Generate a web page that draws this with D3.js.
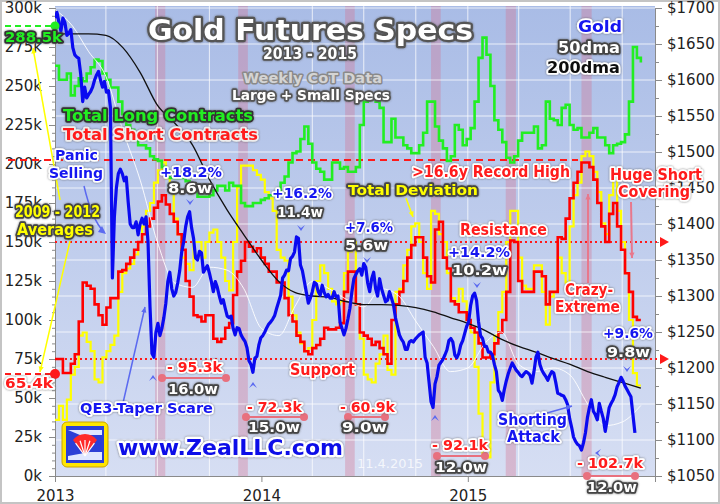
<!DOCTYPE html>
<html>
<head>
<meta charset="utf-8">
<script src="https://cdn.jsdelivr.net/npm/d3@7"></script>
<style>
  body { margin: 0; background: #fff; }
  svg text { font-family: "DejaVu Sans", Verdana, sans-serif; }
</style>
</head>
<body>
<div id="chart"></div>
<script>
// weekly CoT values (thousands of contracts), one per Tuesday from 2013-01-01
const longs = [263,254,254,258,244,250,255,253,258,262,
  267,266,258,254,249,249,240,232,225,222,
  218,212,212,210,205,203,202,198,193,191,
  191,191,191,189,187,183,179,179,179,180,
  183,186,186,183,188,186,186,175,173,173,
  175,175,177,178,180,180,183,188,192,201,
  207,208,216,224,213,201,197,195,190,190,
  201,201,197,198,195,195,198,225,240,241,
  242,240,236,214,214,229,217,217,212,210,
  207,207,212,220,240,240,224,215,210,202,
  205,225,222,212,216,223,240,268,281,270,
  250,228,222,214,204,201,205,215,220,220,
  220,224,210,212,240,229,228,225,236,238,
  225,222,223,217,217,220,223,217,217,212,
  207,212,213,214,219,240,275,268,265];

const shorts = [75,75,66,66,72,78,99,124,122,120,
  110,103,97,108,114,114,131,132,136,140,
  145,150,155,160,165,172,176,180,174,168,
  163,155,145,125,115,103,102,99,103,103,
  88,86,88,95,98,116,131,138,150,147,
  144,146,140,136,131,131,124,124,114,103,
  99,90,86,80,78,82,84,88,95,94,
  94,95,98,118,131,131,110,92,90,88,
  84,86,82,78,72,100,110,118,125,140,
  148,153,153,140,128,124,158,163,140,133,
  112,110,105,105,100,95,92,85,76,76,
  78,85,92,100,118,151,150,125,118,118,
  118,131,131,128,110,118,118,153,152,165,
  178,188,195,201,201,198,190,175,160,150,
  168,175,160,145,130,118,102,100,100];

const deviation = [36,45,36,49,65,70,90,92,86,80,
  62,60,76,80,84,90,118,130,133,136,
  142,150,160,170,175,188,196,201,191,185,
  165,155,140,136,132,150,150,140,150,156,
  158,150,140,125,119,150,185,199,199,199,
  196,193,190,182,178,170,145,140,138,115,
  103,92,85,80,82,100,125,135,130,120,
  112,110,112,130,144,150,110,88,65,62,
  60,72,78,90,68,65,118,120,135,145,
  160,162,150,130,120,170,168,155,150,130,
  114,112,120,112,100,92,70,40,13,12,
  60,90,105,118,150,170,170,140,122,120,
  120,135,135,118,97,115,118,140,130,124,
  160,180,188,205,208,205,195,182,162,155,
  180,195,170,150,130,100,66,58,58];

// gold price ($/oz), read every half week (3.5 days) from 2013-01-01
const gold = [1686,1694,1680,1668,1686,1680,1662,1665,1670,1645,
  1635,1632,1630,1608,1570,1590,1575,1580,1584,1590,
  1600,1607,1612,1600,1590,1598,1583,1585,1562,1325,
  1410,1450,1470,1476,1470,1460,1465,1430,1400,1395,
  1395,1403,1385,1400,1408,1400,1410,1375,1285,1220,
  1215,1250,1262,1245,1255,1270,1290,1320,1333,1310,
  1300,1305,1318,1335,1361,1375,1396,1410,1417,1395,
  1380,1353,1350,1362,1360,1333,1338,1342,1332,1320,
  1306,1320,1312,1300,1290,1295,1283,1272,1270,1272,
  1255,1246,1256,1255,1246,1241,1237,1228,1210,1205,
  1194,1214,1216,1232,1242,1245,1250,1256,1261,1264,
  1268,1273,1283,1292,1301,1325,1329,1336,1335,1352,
  1355,1361,1382,1380,1343,1335,1320,1305,1290,1297,
  1306,1319,1317,1306,1301,1315,1305,1299,1302,1297,
  1297,1306,1299,1300,1264,1255,1246,1255,1268,1283,
  1306,1324,1330,1335,1338,1329,1345,1340,1318,1306,
  1324,1333,1310,1300,1324,1310,1301,1292,1294,1306,
  1297,1288,1270,1258,1246,1240,1236,1226,1226,1236,
  1238,1236,1240,1243,1246,1248,1250,1215,1207,1180,
  1153,1145,1178,1188,1204,1208,1212,1218,1225,1238,
  1241,1236,1218,1214,1220,1232,1238,1248,1258,1264,
  1287,1300,1304,1294,1264,1245,1241,1230,1230,1222,
  1222,1218,1205,1195,1169,1165,1155,1170,1182,1192,
  1200,1207,1202,1197,1194,1190,1188,1192,1195,1193,
  1190,1179,1195,1215,1222,1205,1197,1192,1188,1183,
  1190,1195,1193,1180,1165,1164,1162,1161,1156,1149,
  1130,1118,1104,1098,1094,1092,1086,1096,1110,1131,
  1145,1156,1140,1135,1128,1151,1140,1130,1112,1128,
  1145,1151,1156,1163,1174,1180,1187,1182,1175,1170,
  1165,1160,1135,1110];

// moving averages, monthly readings
const maDates = ["2013-01-01","2013-02-01","2013-03-01","2013-04-01","2013-05-01","2013-06-01",
  "2013-07-01","2013-08-01","2013-09-01","2013-10-01","2013-11-01","2013-12-01",
  "2014-01-01","2014-02-01","2014-03-01","2014-04-01","2014-05-01","2014-06-01",
  "2014-07-01","2014-08-01","2014-09-01","2014-10-01","2014-11-01","2014-12-01",
  "2015-01-01","2015-02-01","2015-03-01","2015-04-01","2015-05-01","2015-06-01",
  "2015-07-01","2015-08-01","2015-09-01","2015-10-01","2015-11-03"];
const dma50 = [1698,1675,1640,1605,1530,1460,1375,1318,1312,1340,1336,1310,
  1255,1245,1285,1320,1310,1295,1285,1310,1300,1265,1230,1195,
  1200,1235,1250,1205,1195,1200,1190,1150,1120,1125,1148];
const dma200 = [1664,1664,1664,1662,1645,1610,1565,1540,1510,1462,1420,1385,
  1350,1320,1305,1300,1298,1292,1288,1288,1287,1284,1278,1270,
  1262,1252,1240,1230,1222,1213,1205,1195,1187,1180,1172];

// short-peak highlight bands
const bandStarts = ["2013-06-27","2013-11-21","2014-05-29","2014-10-28","2015-03-09","2015-07-21"];
const bandEnds   = ["2013-07-15","2013-12-08","2014-06-15","2014-11-14","2015-03-27","2015-08-08"];

const leftTicks = [0,25,50,75,100,125,150,175,200,225,250,275,300];
const rightTicks = [1050,1100,1150,1200,1250,1300,1350,1400,1450,1500,1550,1600,1650,1700];
const yearTicks = ["2013-01-01","2014-01-01","2015-01-01"];
const yearLabels = ["2013","2014","2015"];
const quarterGrid = ["2013-04-01","2013-07-01","2013-10-01","2014-04-01","2014-07-01","2014-10-01",
  "2015-01-01","2015-04-01","2015-07-01","2015-10-01"];

const recordHigh = 202.5, avgLong = 288.5, avgShort = 65.4;
const resistance = 150, support = 75;

/*
SVG + SCALES
*/
const width = 720, height = 504;
const svg = d3.select("#chart").append("svg")
    .attr("width", width).attr("height", height);

const parse = d3.timeParse("%Y-%m-%d");
const start = new Date(2013, 0, 1);
const weekDate = function(i) { return new Date(2013, 0, 1 + 7 * i); };
const halfWeekDate = function(j) { return new Date(start.getTime() + j * 3.5 * 86400000); };

const xScale = d3.scaleTime()
    .domain([new Date(2013, 0, 1), new Date(2015, 10, 28)])
    .range([55, 655]);
const yLeft = d3.scaleLinear().domain([0, 300]).range([476, 8]);
const yRight = d3.scaleLinear().domain([1050, 1700]).range([476, 8]);

const defs = svg.append("defs");
const grad = defs.append("linearGradient").attr("id", "bg")
    .attr("x1", 0).attr("y1", 0).attr("x2", 0).attr("y2", 1);
grad.append("stop").attr("offset", "0%").attr("stop-color", "#a9bce6");
grad.append("stop").attr("offset", "100%").attr("stop-color", "#d6def3");
defs.append("clipPath").attr("id", "plot")
    .append("rect").attr("x", 55).attr("y", 6).attr("width", 600).attr("height", 470);
const glow = defs.append("filter").attr("id", "glow")
    .attr("x", "-10%").attr("y", "-30%").attr("width", "120%").attr("height", "160%");
glow.append("feDropShadow").attr("dx", 0).attr("dy", 0).attr("stdDeviation", 1.2)
    .attr("flood-color", "#555").attr("flood-opacity", 0.8);

// frame + plot background
svg.append("rect").attr("x", 1).attr("y", 1).attr("width", width - 2).attr("height", height - 2)
    .attr("fill", "#fff").attr("stroke", "#c4c4c4").attr("stroke-width", 2);
svg.append("rect").attr("x", 55).attr("y", 6).attr("width", 600).attr("height", 470)
    .attr("fill", "url(#bg)");

/*
BANDS + GRID
*/
svg.selectAll(".band").data(bandStarts).enter().append("rect")
    .attr("x", function(d) { return xScale(parse(d)); })
    .attr("width", function(d, i) { return xScale(parse(bandEnds[i])) - xScale(parse(d)); })
    .attr("y", 6).attr("height", 470)
    .attr("fill", "rgba(215,110,140,0.34)");

svg.selectAll(".hgrid").data(rightTicks.slice(1)).enter().append("line")
    .attr("x1", 55).attr("x2", 655)
    .attr("y1", function(d) { return yRight(d); }).attr("y2", function(d) { return yRight(d); })
    .attr("stroke", "#fff").attr("stroke-opacity", 0.75);
svg.selectAll(".vgrid").data(quarterGrid).enter().append("line")
    .attr("x1", function(d) { return xScale(parse(d)); }).attr("x2", function(d) { return xScale(parse(d)); })
    .attr("y1", 6).attr("y2", 476)
    .attr("stroke", "#fff").attr("stroke-opacity", 0.75);

/*
AXES
*/
function styleAxis(g) {
    g.selectAll("path,line").attr("stroke", "#8a8a8a");
    g.selectAll("text").attr("fill", "#222").attr("font-size", 15)
        .attr("font-family", "DejaVu Sans, Verdana, sans-serif");
}
svg.append("g").attr("transform", "translate(55,0)")
    .call(d3.axisLeft(yLeft).tickValues(d3.range(0, 301, 5)).tickSize(3).tickFormat(""))
    .call(styleAxis);
svg.append("g").attr("transform", "translate(55,0)")
    .call(d3.axisLeft(yLeft).tickValues(leftTicks).tickSize(6).tickPadding(7)
        .tickFormat(function(d) { return d + "k"; }))
    .call(styleAxis);
svg.append("g").attr("transform", "translate(655,0)")
    .call(d3.axisRight(yRight).tickValues(d3.range(1050, 1701, 25)).tickSize(4).tickFormat(""))
    .call(styleAxis);
svg.append("g").attr("transform", "translate(655,0)")
    .call(d3.axisRight(yRight).tickValues(rightTicks).tickSize(7).tickPadding(5)
        .tickFormat(function(d) { return "$" + d; }))
    .call(styleAxis);
svg.append("g").attr("transform", "translate(0,476)")
    .call(d3.axisBottom(xScale).tickValues(yearTicks.map(parse)).tickSize(6).tickPadding(8)
        .tickFormat(function(d, i) { return yearLabels[i]; }))
    .call(styleAxis);

/*
REFERENCE LINES
*/
svg.append("line").attr("x1", 8).attr("x2", 578)
    .attr("y1", yLeft(recordHigh)).attr("y2", yLeft(recordHigh))
    .attr("stroke", "#ff1a1a").attr("stroke-width", 2).attr("stroke-dasharray", "7,5");
[resistance, support].forEach(function(v) {
    svg.append("line").attr("x1", 55).attr("x2", 660)
        .attr("y1", yLeft(v)).attr("y2", yLeft(v))
        .attr("stroke", "#ff1a1a").attr("stroke-width", 2).attr("stroke-dasharray", "2,3");
    svg.append("path")
        .attr("d", `M660,${yLeft(v) - 5}L669,${yLeft(v)}L660,${yLeft(v) + 5}Z`)
        .attr("fill", "#ff1a1a");
});
svg.append("line").attr("x1", 5).attr("x2", 55)
    .attr("y1", yLeft(avgLong)).attr("y2", yLeft(avgLong))
    .attr("stroke", "#22ee22").attr("stroke-width", 2).attr("stroke-dasharray", "6,4");
svg.append("line").attr("x1", 5).attr("x2", 55)
    .attr("y1", yLeft(avgShort)).attr("y2", yLeft(avgShort))
    .attr("stroke", "#ff1a1a").attr("stroke-width", 2).attr("stroke-dasharray", "6,4");

/*
SERIES
*/
const plot = svg.append("g").attr("clip-path", "url(#plot)");
const stepLine = d3.line()
    .x(function(d, i) { return xScale(weekDate(i)); })
    .y(function(d) { return yLeft(d); })
    .curve(d3.curveStepAfter);
const goldLine = d3.line()
    .x(function(d, i) { return xScale(halfWeekDate(i)); })
    .y(function(d) { return yRight(d); });
const maLine = d3.line()
    .x(function(d, i) { return xScale(parse(maDates[i])); })
    .y(function(d) { return yRight(d); })
    .curve(d3.curveMonotoneX);

plot.append("path").datum(deviation).attr("d", stepLine)
    .attr("fill", "none").attr("stroke", "#ffff00").attr("stroke-width", 2.2);
plot.append("path").datum(longs).attr("d", stepLine)
    .attr("fill", "none").attr("stroke", "#22ee22").attr("stroke-width", 2.6);
plot.append("path").datum(shorts).attr("d", stepLine)
    .attr("fill", "none").attr("stroke", "#ff0000").attr("stroke-width", 2.6);
plot.append("path").datum(dma50).attr("d", maLine)
    .attr("fill", "none").attr("stroke", "#fff").attr("stroke-width", 1).attr("stroke-opacity", 0.9);
plot.append("path").datum(dma200).attr("d", maLine)
    .attr("fill", "none").attr("stroke", "#111").attr("stroke-width", 1.3);
plot.append("path").datum(gold).attr("d", goldLine)
    .attr("fill", "none").attr("stroke", "#0a0af0").attr("stroke-width", 3.2)
    .attr("stroke-linejoin", "round");

// start markers
svg.append("circle").attr("cx", xScale(weekDate(0))).attr("cy", yLeft(avgLong)).attr("r", 4.5)
    .attr("fill", "#22ee22");
svg.append("circle").attr("cx", xScale(weekDate(0))).attr("cy", yLeft(avgShort)).attr("r", 5)
    .attr("fill", "#ff1a1a");

/*
ANNOTATION ARROWS
*/
function arrow(x1, y1, x2, y2, color, w) {
    const a = Math.atan2(y2 - y1, x2 - x1), s = 6;
    svg.append("line").attr("x1", x1).attr("y1", y1).attr("x2", x2).attr("y2", y2)
        .attr("stroke", color).attr("stroke-width", w);
    svg.append("path")
        .attr("d", `M${x2},${y2}L${x2 - s * Math.cos(a - 0.45)},${y2 - s * Math.sin(a - 0.45)}` +
            `L${x2 - s * Math.cos(a + 0.45)},${y2 - s * Math.sin(a + 0.45)}Z`)
        .attr("fill", color);
}
arrow(60, 200, 33, 48, "#ffff00", 1.5);
arrow(70, 241, 40, 372, "#ffff00", 1.5);
arrow(406, 198, 413, 217, "#ffff00", 1.5);
arrow(123, 403, 145, 307, "#5b6af0", 1.5);
arrow(547, 413, 572, 406, "#5b6af0", 1.5);
arrow(588, 283, 588, 194, "#e8788c", 2);
arrow(631, 202, 632, 258, "#e8788c", 2);
svg.append("path").attr("d", "M84,186 Q92,220 104,232").attr("fill", "none")
    .attr("stroke", "#5b6af0").attr("stroke-width", 1.5);
svg.append("path").attr("d", "M106,234 L98,232 L102,226 Z").attr("fill", "#5b6af0");

// chevrons pointing at turning points
function chevron(cx, cy, up) {
    const k = up ? -1 : 1;
    svg.append("path")
        .attr("d", `M${cx - 4},${cy - 3 * k}L${cx},${cy + 3 * k}L${cx + 4},${cy - 3 * k}L${cx},${cy}Z`)
        .attr("fill", "#5b6af0");
}
chevron(190, 202, false); chevron(301, 228, false); chevron(367, 260, false);
chevron(477, 285, false); chevron(627, 369, false);
chevron(153, 378, true); chevron(253, 385, true); chevron(435, 418, true);
svg.append("path").attr("d", "M601,449 L595,453 L601,457 L598,453 Z").attr("fill", "#5b6af0");

// span markers under the short-covering rallies
function span(x1, x2, y) {
    svg.append("line").attr("x1", x1).attr("x2", x2).attr("y1", y).attr("y2", y)
        .attr("stroke", "#e8707e").attr("stroke-width", 2);
    [x1, x2].forEach(function(x) {
        svg.append("circle").attr("cx", x).attr("cy", y).attr("r", 4).attr("fill", "#e8707e");
    });
}
span(162, 226, 378); span(246, 304, 417); span(348, 385, 417);
span(437, 485, 456); span(587, 635, 476);

/*
LOGO
*/
const logo = svg.append("g");
logo.append("rect").attr("x", 62).attr("y", 422).attr("width", 46).attr("height", 45).attr("rx", 5)
    .attr("fill", "#ffe600").attr("stroke", "#caa400");
logo.append("rect").attr("x", 66).attr("y", 426).attr("width", 38).attr("height", 37)
    .attr("fill", "#2c3fd6");
logo.append("path").attr("d", "M68,430 L102,430 L102,435 L80,435 Z M68,456 L90,452 L102,452 L102,460 L68,460 Z")
    .attr("fill", "#dfe6ff");
logo.append("path").attr("d", "M85,456 L73,440 A15,15 0 0 1 97,440 Z").attr("fill", "#ff2a2a");
[-36, -18, 0, 18, 36].forEach(function(a) {
    const r = a * Math.PI / 180;
    logo.append("line").attr("x1", 85).attr("y1", 456)
        .attr("x2", 85 + 16 * Math.sin(r)).attr("y2", 456 - 16 * Math.cos(r))
        .attr("stroke", "#fff").attr("stroke-width", 1.2);
});

/*
TEXT
*/
function label(t, x1, x2, y, size, fill, stroke, sw, shadow) {
    const el = svg.append("text")
        .attr("x", (x1 + x2) / 2).attr("y", y)
        .attr("text-anchor", "middle")
        .attr("font-size", size).attr("font-weight", "bold")
        .attr("fill", fill).attr("stroke", stroke).attr("stroke-width", sw)
        .attr("stroke-linejoin", "round").attr("paint-order", "stroke")
        .attr("textLength", x2 - x1).attr("lengthAdjust", "spacingAndGlyphs")
        .text(t);
    if (shadow) el.attr("filter", "url(#glow)");
    return el;
}
const BLUE = "#1414f0", RED = "#ff1a1a", GREEN = "#22ee22", YEL = "#ffff00";

label("Gold Futures Specs", 148, 473, 40, 29, "#fff", "#555", 4.5, true);
label("2013 - 2015", 263, 357, 59, 15, "#fff", "#555", 3.5, true);
label("Weekly CoT Data", 243, 382, 83, 14, "#d4d4d4", "#8a8a8a", 3, false);
label("Large + Small Specs", 232, 390, 100, 14, "#fff", "#555", 3.5, true);
label("Total Long Contracts", 63, 253, 121, 16, GREEN, "#333", 3.5, true);
label("Total Short Contracts", 63, 258, 140, 16, RED, "#eee", 3.5, true);
label("Gold", 578, 622, 32, 15, BLUE, "#fff", 3.5, true);
label("50dma", 558, 620, 53, 15, "#fff", "#444", 3.5, true);
label("200dma", 547, 620, 73, 15, "#111", "#fff", 3.5, true);
label("288.5k", 5, 62, 42, 14, GREEN, "#333", 3.5, true);
label("65.4k", 5, 53, 388, 14, RED, "#fff", 3.5, true);
label("Panic", 55, 98, 160, 14, BLUE, "#fff", 3.5, true);
label("Selling", 49, 103, 178, 14, BLUE, "#fff", 3.5, true);
label("2009 - 2012", 15, 100, 217, 15, YEL, "#444", 3.5, true);
label("Averages", 17, 93, 235, 15, YEL, "#444", 3.5, true);
label("+18.2%", 160, 222, 177, 14, BLUE, "#fff", 3.5, true);
label("8.6w", 168, 212, 193, 14, "#fff", "#444", 3.5, true);
label("+16.2%", 272, 332, 198, 14, BLUE, "#fff", 3.5, true);
label("11.4w", 277, 323, 217, 14, "#fff", "#444", 3.5, true);
label("+7.6%", 345, 393, 232, 14, BLUE, "#fff", 3.5, true);
label("5.6w", 345, 388, 250, 14, "#fff", "#444", 3.5, true);
label("+14.2%", 448, 510, 257, 14, BLUE, "#fff", 3.5, true);
label("10.2w", 452, 507, 275, 14, "#fff", "#444", 3.5, true);
label("+9.6%", 603, 653, 338, 14, BLUE, "#fff", 3.5, true);
label("9.8w", 607, 650, 357, 14, "#fff", "#444", 3.5, true);
label("Total Deviation", 348, 478, 195, 14, YEL, "#444", 3.5, true);
label(">16.6y Record High", 412, 570, 177, 15, RED, "#fff", 3.5, true);
label("Resistance", 460, 547, 235, 15, RED, "#fff", 3.5, true);
label("Huge Short", 610, 702, 180, 15, RED, "#fff", 3.5, true);
label("Covering", 618, 690, 197, 15, RED, "#fff", 3.5, true);
label("Crazy-", 565, 613, 295, 15, RED, "#fff", 3.5, true);
label("Extreme", 555, 620, 312, 15, RED, "#fff", 3.5, true);
label("Support", 290, 355, 375, 15, RED, "#fff", 3.5, true);
label("- 95.3k", 167, 222, 372, 14, RED, "#fff", 3.5, true);
label("16.0w", 168, 218, 394, 14, "#fff", "#444", 3.5, true);
label("QE3-Taper Scare", 80, 213, 413, 14, BLUE, "#fff", 3.5, true);
label("- 72.3k", 247, 302, 412, 14, RED, "#fff", 3.5, true);
label("15.0w", 248, 300, 432, 14, "#fff", "#444", 3.5, true);
label("- 60.9k", 340, 395, 412, 14, RED, "#fff", 3.5, true);
label("9.0w", 342, 387, 432, 14, "#fff", "#444", 3.5, true);
label("- 92.1k", 432, 488, 450, 14, RED, "#fff", 3.5, true);
label("12.0w", 435, 487, 472, 14, "#fff", "#444", 3.5, true);
label("Shorting", 498, 567, 425, 15, BLUE, "#fff", 3.5, true);
label("Attack", 507, 560, 442, 15, BLUE, "#fff", 3.5, true);
label("- 102.7k", 577, 643, 468, 14, RED, "#fff", 3.5, true);
label("12.0w", 587, 637, 492, 14, "#fff", "#444", 3.5, true);
label("www.ZealLLC.com", 118, 343, 455, 21, "#1111e8", "#fff", 4.5, true);

svg.append("text").attr("x", 390).attr("y", 468).attr("text-anchor", "middle")
    .attr("font-size", 13).attr("fill", "#fff").attr("fill-opacity", 0.75)
    .attr("textLength", 66).attr("lengthAdjust", "spacingAndGlyphs")
    .text("11.4.2015");
</script>
</body>
</html>
